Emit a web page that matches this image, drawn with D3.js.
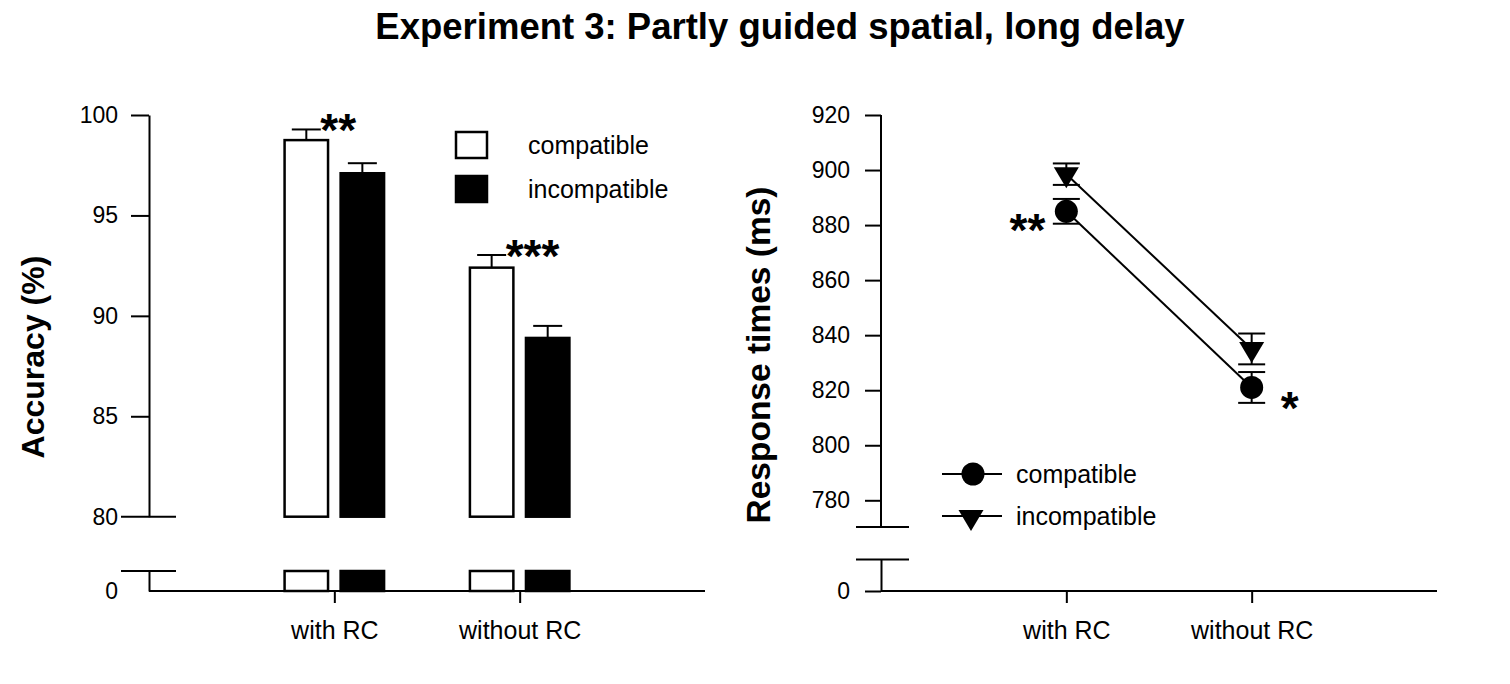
<!DOCTYPE html>
<html lang="en">
<head>
    <meta charset="UTF-8">
    <title>Experiment 3: Partly guided spatial, long delay</title>
    <script src="https://d3js.org/d3.v7.min.js"></script>
    <style>
        body {
            margin: 0;
            background: #fff;
        }
        svg text {
            font-family: 'Liberation Sans', Arial, sans-serif;
            fill: #000;
        }
        .axis path, .axis line, .brk {
            stroke: #000;
            stroke-width: 2px;
        }
        .axis text {
            font-size: 23px;
        }
        .cat text {
            font-size: 25px;
        }
        .ylabel {
            font-weight: bold;
        }
        .legend text {
            font-size: 25px;
        }
        .stars {
            font-size: 46px;
            font-weight: bold;
        }
    </style>
</head>
<body>
    <svg id="chart" width="1510" height="684"></svg>
    <script>
        // values
        const categories = ["with RC", "without RC"];
        const series = ["compatible", "incompatible"];

        const accCompatible = [98.75, 92.4];
        const accCompatibleErr = [0.53, 0.63];
        const accIncompatible = [97.1, 88.9];
        const accIncompatibleErr = [0.5, 0.6];
        const accTicks = [80, 85, 90, 95, 100];
        const accStars = ["**", "***"];

        const rtCompatible = [885, 821];
        const rtCompatibleErr = [4.5, 5.6];
        const rtIncompatible = [898.5, 835];
        const rtIncompatibleErr = [3.9, 5.6];
        const rtTicks = [780, 800, 820, 840, 860, 880, 900, 920];
        const rtStars = ["**", "*"];

        const svg = d3.select("#chart");

        svg.append("text")
            .attr("x", 780)
            .attr("y", 39)
            .attr("text-anchor", "middle")
            .style("font-size", "36.5px")
            .style("font-weight", "bold")
            .text("Experiment 3: Partly guided spatial, long delay");

        // ---------- left panel: accuracy bars ----------
        const L = { x0: 149, x1: 705, yTop: 115, yBrk: 516.7, yLowTop: 571, yBase: 591 };

        const xL = d3.scalePoint().domain(categories).range([L.x0, L.x1]).padding(1);
        const xSub = d3.scaleBand().domain(series).range([-51, 51]).paddingInner(0.18);
        const yAcc = d3.scaleLinear().domain([80, 100]).range([L.yBrk, L.yTop]);
        const yAccLow = d3.scaleLinear().domain([0, 1]).range([L.yBase, L.yLowTop]);
        const fmt = d3.format("d");

        svg.append("g")
            .attr("class", "axis")
            .attr("transform", `translate(${L.x0},0)`)
            .call(d3.axisLeft(yAcc).tickValues(accTicks).tickFormat(fmt).tickSize(18).tickSizeOuter(0).tickPadding(13))
            .call(g => g.selectAll(".tick line").filter(d => d === 80).remove());

        svg.append("g")
            .attr("class", "axis")
            .attr("transform", `translate(${L.x0},0)`)
            .call(d3.axisLeft(yAccLow).tickValues([0]).tickFormat(fmt).tickSize(18).tickSizeOuter(0).tickPadding(13))
            .call(g => g.selectAll(".tick line").remove());

        // axis break marks
        [yAcc(80), yAccLow(1)].forEach(y => {
            svg.append("line").attr("class", "brk")
                .attr("x1", L.x0 - 28).attr("x2", L.x0 + 27)
                .attr("y1", y).attr("y2", y);
        });

        svg.append("g")
            .attr("class", "axis cat")
            .attr("transform", `translate(0,${L.yBase})`)
            .call(d3.axisBottom(xL).tickSize(12).tickSizeOuter(0).tickPadding(18))
            .call(g => g.select(".domain").attr("d", `M${L.x0},0H${L.x1}`));

        const accRows = categories.map((c, i) => [
            { cat: c, s: "compatible", v: accCompatible[i], e: accCompatibleErr[i] },
            { cat: c, s: "incompatible", v: accIncompatible[i], e: accIncompatibleErr[i] }
        ]).flat();

        const fillOf = s => s === "compatible" ? "#fff" : "#000";
        const bx = d => xL(d.cat) + xSub(d.s);

        // error bars (upper only)
        const errG = svg.append("g").attr("stroke", "#000").attr("stroke-width", 2);
        accRows.forEach(d => {
            const cx = bx(d) + xSub.bandwidth() / 2;
            errG.append("line").attr("x1", cx).attr("x2", cx)
                .attr("y1", yAcc(d.v)).attr("y2", yAcc(d.v + d.e));
            errG.append("line").attr("x1", cx - 14.5).attr("x2", cx + 14.5)
                .attr("y1", yAcc(d.v + d.e)).attr("y2", yAcc(d.v + d.e));
        });

        svg.append("g").selectAll("rect")
            .data(accRows)
            .join("rect")
            .attr("x", d => bx(d) + 1.25)
            .attr("width", xSub.bandwidth() - 2.5)
            .attr("y", d => yAcc(d.v))
            .attr("height", d => yAcc(80) - yAcc(d.v))
            .attr("fill", d => fillOf(d.s))
            .attr("stroke", "#000")
            .attr("stroke-width", 2.5);

        // stubs below the break
        svg.append("g").selectAll("rect")
            .data(accRows)
            .join("rect")
            .attr("x", d => bx(d) + 1.25)
            .attr("width", xSub.bandwidth() - 2.5)
            .attr("y", yAccLow(1))
            .attr("height", yAccLow(0) - yAccLow(1))
            .attr("fill", d => fillOf(d.s))
            .attr("stroke", "#000")
            .attr("stroke-width", 2.5);

        // significance stars
        svg.append("g").selectAll("text")
            .data(categories)
            .join("text")
            .attr("class", "stars")
            .attr("x", (c, i) => xL(c) + xSub("compatible") + xSub.bandwidth() / 2 + 14)
            .attr("y", (c, i) => yAcc(accCompatible[i] + accCompatibleErr[i]) + 17)
            .text((c, i) => accStars[i]);

        svg.append("text")
            .attr("class", "ylabel")
            .attr("transform", `translate(44,${(L.yTop + L.yBase) / 2 + 4}) rotate(-90)`)
            .attr("text-anchor", "middle")
            .style("font-size", "32px")
            .text("Accuracy (%)");

        const legL = svg.append("g").attr("class", "legend");
        series.forEach((s, i) => {
            legL.append("rect")
                .attr("x", 456).attr("y", 132 + i * 44)
                .attr("width", 31).attr("height", 26)
                .attr("fill", fillOf(s))
                .attr("stroke", "#000").attr("stroke-width", 2.5);
            legL.append("text")
                .attr("x", 528).attr("y", 154 + i * 44)
                .text(s);
        });

        // ---------- right panel: response times ----------
        const R = { x0: 881, x1: 1437, yTop: 115, yBrk: 527, yLowTop: 559.5, yBase: 591 };

        const xR = d3.scalePoint().domain(categories).range([R.x0, R.x1]).padding(1);
        const yRt = d3.scaleLinear().domain([780, 920]).range([500.3, R.yTop]);
        const yRtLow = d3.scaleLinear().domain([0, 1]).range([R.yBase, R.yLowTop]);

        svg.append("g")
            .attr("class", "axis")
            .attr("transform", `translate(${R.x0},0)`)
            .call(d3.axisLeft(yRt).tickValues(rtTicks).tickFormat(fmt).tickSize(16).tickSizeOuter(0).tickPadding(15))
            .call(g => g.select(".domain").attr("d", `M0,${R.yBrk}V${R.yTop}`));

        svg.append("g")
            .attr("class", "axis")
            .attr("transform", `translate(${R.x0},0)`)
            .call(d3.axisLeft(yRtLow).tickValues([0]).tickFormat(fmt).tickSize(16).tickSizeOuter(0).tickPadding(15));

        [R.yBrk, yRtLow(1)].forEach(y => {
            svg.append("line").attr("class", "brk")
                .attr("x1", R.x0 - 25).attr("x2", R.x0 + 28)
                .attr("y1", y).attr("y2", y);
        });

        svg.append("g")
            .attr("class", "axis cat")
            .attr("transform", `translate(0,${R.yBase})`)
            .call(d3.axisBottom(xR).tickSize(12).tickSizeOuter(0).tickPadding(18))
            .call(g => g.select(".domain").attr("d", `M${R.x0},0H${R.x1}`));

        const rtSeries = [
            { s: "compatible", v: rtCompatible, e: rtCompatibleErr },
            { s: "incompatible", v: rtIncompatible, e: rtIncompatibleErr }
        ];

        const line = d3.line()
            .x((v, i) => xR(categories[i]))
            .y(v => yRt(v));

        const triPath = "M-12.5,-7L12.5,-7L0,14Z";

        rtSeries.forEach(ser => {
            svg.append("path")
                .datum(ser.v)
                .attr("fill", "none")
                .attr("stroke", "#000")
                .attr("stroke-width", 2)
                .attr("d", line);

            ser.v.forEach((v, i) => {
                const cx = xR(categories[i]);
                const g = svg.append("g").attr("stroke", "#000").attr("stroke-width", 2);
                g.append("line").attr("x1", cx).attr("x2", cx)
                    .attr("y1", yRt(v - ser.e[i])).attr("y2", yRt(v + ser.e[i]));
                [v - ser.e[i], v + ser.e[i]].forEach(ev => {
                    g.append("line").attr("x1", cx - 13.5).attr("x2", cx + 13.5)
                        .attr("y1", yRt(ev)).attr("y2", yRt(ev));
                });
                if (ser.s === "compatible") {
                    svg.append("circle").attr("cx", cx).attr("cy", yRt(v)).attr("r", 11.5).attr("fill", "#000");
                } else {
                    svg.append("path").attr("d", triPath)
                        .attr("transform", `translate(${cx},${yRt(v)})`).attr("fill", "#000");
                }
            });
        });

        svg.append("text")
            .attr("class", "stars")
            .attr("x", xR(categories[0]) - 21)
            .attr("y", yRt(rtCompatible[0]) + 35)
            .attr("text-anchor", "end")
            .text(rtStars[0]);

        svg.append("text")
            .attr("class", "stars")
            .attr("x", xR(categories[1]) + 29)
            .attr("y", yRt(rtCompatible[1]) + 37)
            .text(rtStars[1]);

        svg.append("text")
            .attr("class", "ylabel")
            .attr("transform", `translate(770,${(R.yTop + R.yBase) / 2 + 2}) rotate(-90)`)
            .attr("text-anchor", "middle")
            .style("font-size", "33.5px")
            .text("Response times (ms)");

        const legR = svg.append("g").attr("class", "legend");
        series.forEach((s, i) => {
            const ly = 474 + i * 42;
            legR.append("line")
                .attr("x1", 942).attr("x2", 1002)
                .attr("y1", ly).attr("y2", ly)
                .attr("stroke", "#000").attr("stroke-width", 2);
            if (s === "compatible") {
                legR.append("circle").attr("cx", 973).attr("cy", ly).attr("r", 11.5).attr("fill", "#000");
            } else {
                legR.append("path").attr("d", triPath)
                    .attr("transform", `translate(971,${ly + 1})`).attr("fill", "#000");
            }
            legR.append("text")
                .attr("x", 1016).attr("y", ly + 9)
                .text(s);
        });
    </script>
</body>
</html>
